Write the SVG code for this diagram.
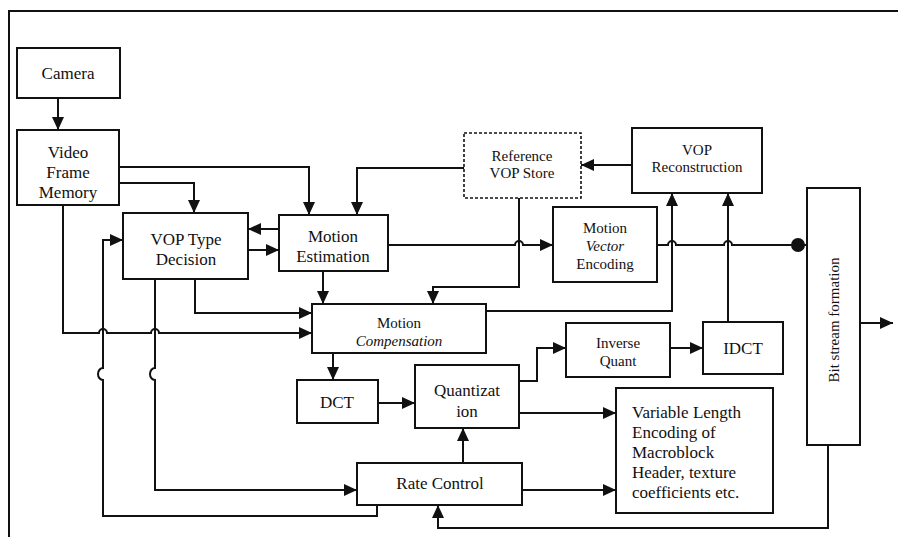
<svg xmlns="http://www.w3.org/2000/svg" width="898" height="537" viewBox="0 0 898 537">
  <style>
    .box { fill: #fff; stroke: #111; stroke-width: 2; }
    .dash { fill: #fff; stroke: #111; stroke-width: 1.6; stroke-dasharray: 3 2; }
    .t { font-family: "Liberation Serif", "Times New Roman", serif; font-size: 17px; fill: #111; text-anchor: middle; }
    .s { font-size: 15px; }
    .l { text-anchor: start; }
    .w { fill: none; stroke: #111; stroke-width: 2; }
    .a { marker-end: url(#ah); }
  </style>
  <defs>
    <marker id="ah" markerUnits="userSpaceOnUse" markerWidth="13" markerHeight="12" refX="13" refY="6" orient="auto">
      <path d="M0,0 L13,6 L0,12 z" fill="#111"/>
    </marker>
  </defs>
  <rect width="898" height="537" fill="#fff"/>

  <!-- outer frame (top and left edges only) -->
  <path d="M9,537 V11 H898" fill="none" stroke="#111" stroke-width="2"/>

  <g id="connectors">
    <path class="w a" d="M58,98 V130"/>
    <path class="w a" d="M119,183 H194 V213"/>
    <path class="w a" d="M119,167 H309 V215"/>
    <path class="w a" d="M464,168 H357 V215"/>
    <path class="w a" d="M279,229 H248"/>
    <path class="w a" d="M248,250 H279"/>
    <path class="w a" d="M323,271 V304"/>
    <path class="w a" d="M388,245 H515 a4,4 0 0 1 8,0 H553"/>
    <path class="w a" d="M519,198 V287 H433 V304"/>
    <path class="w a" d="M632,165 H581"/>
    <path class="w" d="M657,245 H668 a4,4 0 0 1 8,0 H724 a4,4 0 0 1 8,0 H807"/>
    <circle cx="798" cy="245" r="7" fill="#111"/>
    <path class="w a" d="M486,311 H672 V193"/>
    <path class="w a" d="M728,322 V193"/>
    <path class="w a" d="M195,279 V313 H312"/>
    <path class="w a" d="M63,205 V333 H99 a4,4 0 0 1 8,0 H151 a4,4 0 0 1 8,0 H312"/>
    <path class="w a" d="M155,279 V368 a5,6 0 0 0 0,12 V490 H357"/>
    <path class="w a" d="M377,505 V516 H103 V380 a5,6 0 0 1 0,-12 V240 H123"/>
    <path class="w a" d="M333,353 V380"/>
    <path class="w a" d="M378,403 H415"/>
    <path class="w a" d="M519,381 H537 V348 H566"/>
    <path class="w a" d="M670,348 H703"/>
    <path class="w a" d="M519,413 H616"/>
    <path class="w a" d="M463,463 V428"/>
    <path class="w a" d="M522,490 H616"/>
    <path class="w a" d="M828,445 V528 H438 V505"/>
    <path class="w a" d="M860,323 H893"/>
  </g>

  <g id="camera">
    <rect class="box" x="17" y="48" width="103" height="50"/>
    <text class="t" x="68" y="79">Camera</text>
  </g>
  <g id="video-frame-memory">
    <rect class="box" x="17" y="130" width="102" height="75"/>
    <text class="t" x="68" y="158">Video</text>
    <text class="t" x="68" y="178">Frame</text>
    <text class="t" x="68" y="198">Memory</text>
  </g>
  <g id="vop-type-decision">
    <rect class="box" x="123" y="213" width="125" height="66"/>
    <text class="t" x="186" y="245">VOP Type</text>
    <text class="t" x="186" y="265">Decision</text>
  </g>
  <g id="motion-estimation">
    <rect class="box" x="279" y="215" width="109" height="56"/>
    <text class="t" x="333" y="242">Motion</text>
    <text class="t" x="333" y="262">Estimation</text>
  </g>
  <g id="reference-vop-store">
    <rect class="dash" x="464" y="133" width="117" height="65"/>
    <text class="t s" x="522" y="161">Reference</text>
    <text class="t s" x="522" y="178">VOP Store</text>
  </g>
  <g id="vop-reconstruction">
    <rect class="box" x="632" y="128" width="130" height="65"/>
    <text class="t s" x="697" y="155">VOP</text>
    <text class="t s" x="697" y="172">Reconstruction</text>
  </g>
  <g id="motion-vector-encoding">
    <rect class="box" x="553" y="207" width="104" height="75"/>
    <text class="t s" x="605" y="233">Motion</text>
    <text class="t s" x="605" y="251" font-style="italic">Vector</text>
    <text class="t s" x="605" y="269">Encoding</text>
  </g>
  <g id="motion-compensation">
    <rect class="box" x="312" y="304" width="174" height="49"/>
    <text class="t s" x="399" y="328">Motion</text>
    <text class="t s" x="399" y="346" font-style="italic">Compensation</text>
  </g>
  <g id="dct">
    <rect class="box" x="297" y="380" width="81" height="43"/>
    <text class="t" x="337" y="408">DCT</text>
  </g>
  <g id="quantization">
    <rect class="box" x="415" y="365" width="104" height="63"/>
    <text class="t" x="467" y="396">Quantizat</text>
    <text class="t" x="467" y="417">ion</text>
  </g>
  <g id="inverse-quant">
    <rect class="box" x="566" y="323" width="104" height="54"/>
    <text class="t s" x="618" y="348">Inverse</text>
    <text class="t s" x="618" y="366">Quant</text>
  </g>
  <g id="idct">
    <rect class="box" x="703" y="322" width="80" height="52"/>
    <text class="t" x="743" y="354">IDCT</text>
  </g>
  <g id="variable-length-encoding">
    <rect class="box" x="616" y="388" width="157" height="125"/>
    <text class="t l" x="632" y="418">Variable Length</text>
    <text class="t l" x="632" y="438">Encoding of</text>
    <text class="t l" x="632" y="458">Macroblock</text>
    <text class="t l" x="632" y="478">Header, texture</text>
    <text class="t l" x="632" y="498">coefficients etc.</text>
  </g>
  <g id="rate-control">
    <rect class="box" x="357" y="463" width="165" height="42"/>
    <text class="t" x="440" y="489">Rate Control</text>
  </g>
  <g id="bit-stream-formation">
    <rect class="box" x="807" y="188" width="53" height="257"/>
    <text class="t s" transform="translate(839,320) rotate(-90)">Bit stream formation</text>
  </g>
</svg>
